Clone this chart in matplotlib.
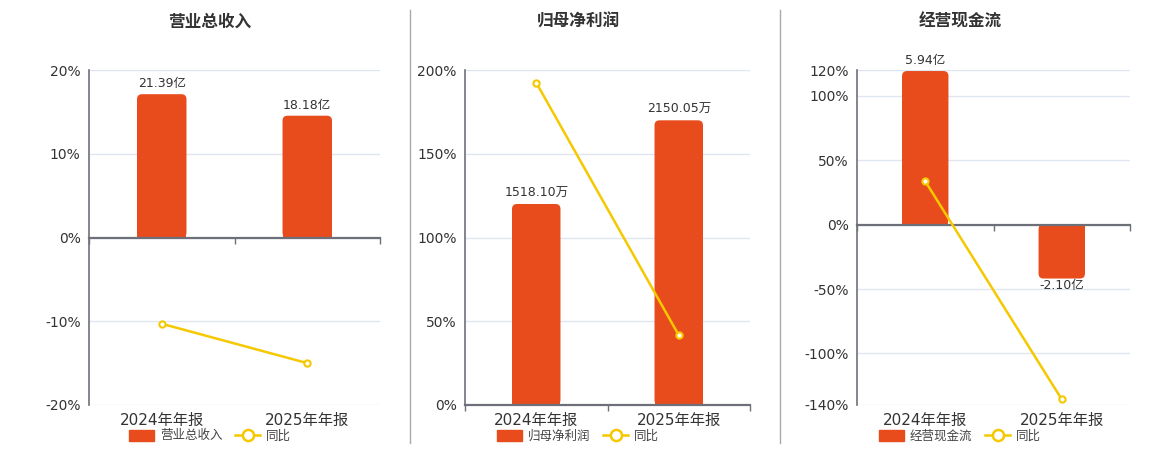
import matplotlib
matplotlib.use("Agg")
import matplotlib.pyplot as plt
from matplotlib.patches import Patch, FancyBboxPatch
from matplotlib.lines import Line2D

plt.rcParams['font.family'] = ['DejaVu Sans', 'Noto Sans CJK SC']

categories = ['2024年年报', '2025年年报']

titles = ['营业总收入', '归母净利润', '经营现金流']
bar_values = [[21.39, 18.18], [1518.10, 2150.05], [5.94, -2.10]]
bar_labels = [['21.39亿', '18.18亿'], ['1518.10万', '2150.05万'], ['5.94亿', '-2.10亿']]
yoy_values = [[-10.3, -15.0], [192.4, 41.7], [33.6, -135.6]]
pct_ticks = [[-20, -10, 0, 10, 20], [0, 50, 100, 150, 200], [-140, -100, -50, 0, 50, 100, 120]]
pct_lims = [(-20, 20), (0, 200), (-140, 120)]
bar_lims = [(-25.0, 25.0), (0, 2530), (-7.0, 5.98)]

BAR = '#E84C1D'
LINE = '#F5C800'
AXC = '#6E7079'
GRID = '#E0E6F1'
TXT = '#333333'

W, H = 1160, 450
fig = plt.figure(figsize=(W / 100, H / 100), dpi=100)

axes_px = [(89, 380), (465, 750), (857, 1130)]
title_x = [210, 578, 960]
top_px, bot_px = 70, 405
BAR_W = 0.34
R_PX = 5.0

for i in range(3):
    x0, x1 = axes_px[i]
    wpx, hpx = x1 - x0, bot_px - top_px
    rect = [x0 / W, 1 - bot_px / H, wpx / W, hpx / H]
    ax = fig.add_axes(rect)
    ax.set_ylim(*pct_lims[i])
    ax.set_xlim(-0.5, 1.5)
    ax.set_yticks(pct_ticks[i])
    ax.set_yticklabels([f'{t}%' for t in pct_ticks[i]])
    ax.yaxis.grid(True, color=GRID, lw=1)
    ax.set_axisbelow(True)
    for s in ['top', 'right', 'bottom']:
        ax.spines[s].set_visible(False)
    ax.spines['left'].set_color(AXC)
    ax.spines['left'].set_linewidth(1.2)
    ax.tick_params(axis='y', length=0, pad=6, labelsize=10, labelcolor=TXT)
    ax.set_xticks([0, 1])
    ax.set_xticklabels(categories)
    ax.tick_params(axis='x', length=0, pad=6, labelsize=11, labelcolor=TXT)

    # bars on twin axis
    axb = ax.twinx()
    axb.set_ylim(*bar_lims[i])
    axb.set_xlim(-0.5, 1.5)
    axb.yaxis.set_visible(False)
    for s in axb.spines.values():
        s.set_visible(False)
    axb.tick_params(axis='x', bottom=False, labelbottom=False, top=False, labeltop=False)
    axb.patch.set_visible(False)
    bars = axb.bar([0, 1], bar_values[i], width=BAR_W, color=BAR, linewidth=0)
    pos_labels = [l if v >= 0 else '' for l, v in zip(bar_labels[i], bar_values[i])]
    neg_labels = [l if v < 0 else '' for l, v in zip(bar_labels[i], bar_values[i])]
    axb.bar_label(bars, labels=pos_labels, padding=3, fontsize=9, color=TXT, zorder=10)
    axb.bar_label(bars, labels=neg_labels, padding=0, fontsize=9, color=TXT, zorder=10)

    # rounded far-end corners
    blo, bhi = bar_lims[i]
    ux = 2.0 / wpx            # x data units per pixel
    uy = (bhi - blo) / hpx    # y data units per pixel
    r = R_PX * ux
    for b in bars:
        bx, by = b.get_x(), b.get_y()
        bw, bh = b.get_width(), b.get_height()
        top = by + bh
        rr = R_PX * uy
        if bh >= 0:
            b.set_height(max(bh - rr, 0))
        else:
            b.set_height(min(bh + rr, 0))
        ylo, yhi = min(by, top), max(by, top)
        fb = FancyBboxPatch((bx, ylo), bw, yhi - ylo,
                            boxstyle=f'round,pad=0,rounding_size={r}',
                            mutation_aspect=uy / ux, facecolor=BAR, edgecolor='none')
        axb.add_patch(fb)

    # line on another twin axis (percent)
    axl = ax.twinx()
    axl.set_ylim(*pct_lims[i])
    axl.set_xlim(-0.5, 1.5)
    for s in axl.spines.values():
        s.set_visible(False)
    axl.yaxis.set_visible(False)
    axl.tick_params(axis='x', bottom=False, labelbottom=False, top=False, labeltop=False)
    axl.patch.set_visible(False)
    axl.plot([0, 1], yoy_values[i], color=LINE, lw=1.8, marker='o', ms=4.5,
             mfc='white', mec=LINE, mew=1.5, zorder=5)

    # category axis line at zero
    lo, hi = pct_lims[i]
    frac = (0 - lo) / (hi - lo)
    sec = axl.secondary_xaxis(frac)
    sec.set_alignment('bottom')
    for s in sec.spines.values():
        s.set_visible(False)
    sec.spines['bottom'].set_visible(True)
    sec.spines['bottom'].set_color(AXC)
    sec.spines['bottom'].set_linewidth(1.6)
    sec.set_xticks([-0.5, 0.5, 1.5])
    sec.set_xticklabels([])
    sec.tick_params(axis='x', length=4, width=1, color=AXC, direction='out')

    fig.text(title_x[i] / W, 1 - 22 / H, titles[i], ha='center', va='center',
             fontsize=12, fontweight='bold', color=TXT)

    handles = [Patch(facecolor=BAR, edgecolor=BAR, label=titles[i]),
               Line2D([0], [0], color=LINE, lw=1.8, marker='o', ms=8, mfc='white',
                      mec=LINE, mew=1.8, label='同比')]
    fig.legend(handles=handles, loc='center', bbox_to_anchor=(title_x[i] / W, 1 - 436 / H),
               ncol=2, frameon=False, fontsize=9, handlelength=2.0, handleheight=1.0,
               columnspacing=1.0, handletextpad=0.5, labelcolor='#444444')

# separators
for xs in [410, 780]:
    fig.add_artist(Line2D([xs / W, xs / W], [1 - 10 / H, 1 - 443 / H], color='#AAAAAA', lw=1))

fig.savefig('out.png', dpi=100)
